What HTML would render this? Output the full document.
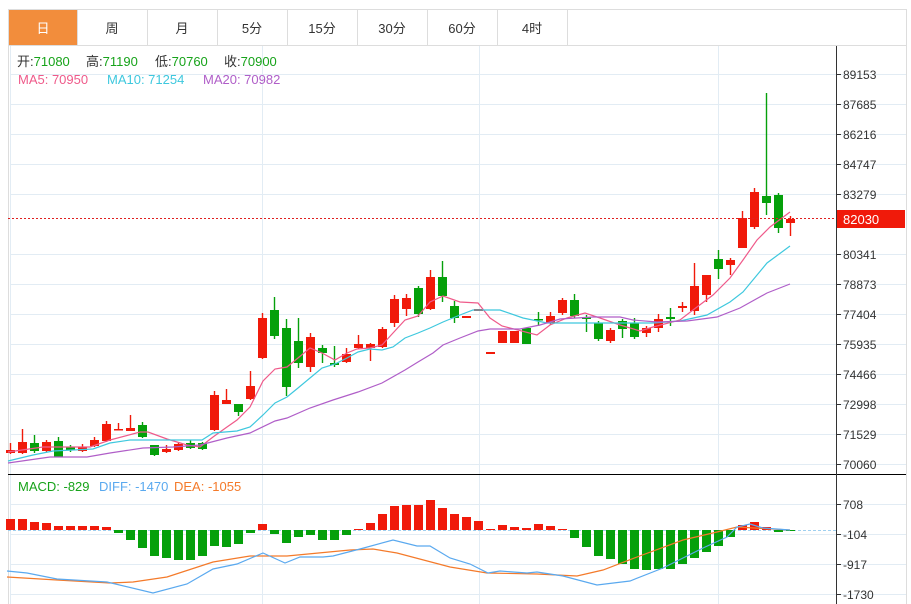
<!DOCTYPE html>
<html><head><meta charset="utf-8"><style>
html,body{margin:0;padding:0;background:#fff;width:911px;height:604px;overflow:hidden}
svg{display:block;font-family:"Liberation Sans","Noto Sans CJK SC",sans-serif}
</style></head><body>
<svg id="s" width="911" height="604" viewBox="0 0 911 604" xmlns="http://www.w3.org/2000/svg">
<rect x="8.5" y="9.5" width="898" height="600" fill="#fff" stroke="#ddd"/>
<g stroke="#ddd"><line x1="8" y1="45.5" x2="906" y2="45.5"/></g>
<rect x="9" y="10" width="68" height="35" fill="#f28d3c"/>
<g stroke="#ddd">
<line x1="77.5" y1="10" x2="77.5" y2="45"/><line x1="147.5" y1="10" x2="147.5" y2="45"/><line x1="217.5" y1="10" x2="217.5" y2="45"/><line x1="287.5" y1="10" x2="287.5" y2="45"/><line x1="357.5" y1="10" x2="357.5" y2="45"/><line x1="427.5" y1="10" x2="427.5" y2="45"/><line x1="497.5" y1="10" x2="497.5" y2="45"/><line x1="567.5" y1="10" x2="567.5" y2="45"/>
</g>
<g font-size="13" text-anchor="middle" fill="#333">
<text x="43" y="33" fill="#fff">日</text><text x="112" y="33">周</text><text x="182" y="33">月</text><text x="252" y="33">5分</text><text x="322" y="33">15分</text><text x="392" y="33">30分</text><text x="462" y="33">60分</text><text x="532" y="33">4时</text>
</g>
<g id="grid" stroke="#e2ecf4" stroke-width="1"></g>
<g id="main"></g>
<line x1="8" y1="474.5" x2="906" y2="474.5" stroke="#000"/>
<line x1="836.5" y1="46" x2="836.5" y2="604" stroke="#333"/>
<line x1="8" y1="218.5" x2="836" y2="218.5" stroke="#e02020" stroke-dasharray="2,2"/>
<rect x="837" y="210" width="68" height="18" fill="#f01a0a"/>
<text x="843" y="224" font-size="13" fill="#fff">82030</text>
<g font-size="13">
<text x="17" y="66" fill="#333">开:<tspan fill="#17a31a">71080</tspan></text>
<text x="86" y="66" fill="#333">高:<tspan fill="#17a31a">71190</tspan></text>
<text x="155" y="66" fill="#333">低:<tspan fill="#17a31a">70760</tspan></text>
<text x="224" y="66" fill="#333">收:<tspan fill="#17a31a">70900</tspan></text>
<text x="18" y="84" fill="#ef5a8a">MA5: 70950</text>
<text x="107" y="84" fill="#3ec8de">MA10: 71254</text>
<text x="203" y="84" fill="#b05ec8">MA20: 70982</text>
<text x="18" y="491" fill="#17a31a">MACD: -829</text>
<text x="99" y="491" fill="#5aa9ef">DIFF: -1470</text>
<text x="174" y="491" fill="#f47a2a">DEA: -1055</text>
</g>
</svg>
<script>
const S=document.getElementById('s'),G=document.getElementById('grid'),M=document.getElementById('main');
const ns='http://www.w3.org/2000/svg';
function el(p,t,a){const e=document.createElementNS(ns,t);for(const k in a)e.setAttribute(k,a[k]);p.appendChild(e);return e;}
const py=[74,104,134,164,194,224,254,284,314,344,374,404,434,464], pl=[89153,87685,86216,84747,83279,null,80341,78873,77404,75935,74466,72998,71529,70060];
py.forEach((y,i)=>{if(i!=5)el(G,'line',{x1:10,y1:y+.5,x2:906,y2:y+.5});});
[504,534,564,594].forEach(y=>el(G,'line',{x1:10,y1:y+.5,x2:906,y2:y+.5}));
[10,262,479,718].forEach(x=>el(G,'line',{x1:x+.5,y1:46,x2:x+.5,y2:604}));
py.forEach((y,i)=>{if(pl[i]){el(S,'line',{x1:836,y1:y+.5,x2:841,y2:y+.5,stroke:'#333'});const t=el(S,'text',{x:843,y:y+5,'font-size':12,fill:'#333'});t.textContent=pl[i];}});
[[504,'708'],[534,'-104'],[564,'-917'],[594,'-1730']].forEach(([y,l])=>{el(S,'line',{x1:836,y1:y+.5,x2:841,y2:y+.5,stroke:'#333'});const t=el(S,'text',{x:843,y:y+5,'font-size':12,fill:'#333'});t.textContent=l;});
const C=[['r',450,453,443,454],['r',442,453,429,454],['g',443,451,435,453],['r',442,451,440,452],['g',441,457,437,457],['g',447,450,445,452],['r',447,451,444,452],['r',440,446,437,447],['r',424,441,421,442],['r',429,430,423,430],['r',428,431,415,431],['g',425,437,422,438],
['g',445,455,445,456],['r',449,452,445,453],['r',444,450,442,451],['g',443,448,440,449],['g',443,449,442,450],['r',395,430,391,431],['r',400,404,389,404],['g',404,412,404,416],['r',386,399,371,400],['r',318,358,313,359],['g',310,336,297,339],['g',328,387,319,396],['g',341,363,318,368],['r',337,367,333,372],['g',348,353,345,363],['g',363,365,346,367],['r',354,362,348,363],['r',344,348,335,349],['r',344,348,343,361],['r',329,347,327,348],['r',299,323,295,327],['r',298,309,294,316],['g',288,314,286,317],['r',277,309,270,310],['g',277,296,261,302],['g',306,318,301,323],
['r',316,318,316,318],['r',309,311,309,311],['r',352,354,352,354],['r',331,343,331,343],['r',331,343,331,343],['g',328,344,328,344],['g',319,320,312,326],['r',316,323,312,325],['r',300,313,298,315],['g',300,316,294,318],['g',317,319,315,332],['g',323,339,321,341],['r',330,341,328,343],['g',321,329,319,338],['g',323,337,318,339],['r',328,333,326,337],['r',319,328,314,332],['g',317,319,308,326],['r',306,308,302,312],['r',286,311,263,315],['r',275,295,275,302],['g',259,269,250,279],['r',260,265,258,275],['r',218,248,211,248],['r',192,227,188,229],['g',196,203,93,215],['g',195,228,193,233],['r',219,223,216,236]];
const R='#f01a0a',Gc='#05a00b';
C.forEach((c,i)=>{const x=10+12*i,col=c[0]=='r'?R:Gc;
el(M,'line',{x1:x+.5,y1:c[3],x2:x+.5,y2:c[4],stroke:col,'stroke-width':1.4});
el(M,'rect',{x:x-4,y:c[1],width:9,height:Math.max(1.5,c[2]-c[1]),fill:col});});
function pl2(pts,col,w){el(M,'polyline',{points:pts.map(p=>p.join(',')).join(' '),fill:'none',stroke:col,'stroke-width':w||1.2});}
pl2([[8,452],[43,447],[90,447],[110,440],[140,432],[148,432],[167,439],[187,445],[200,447],[213,437],[227,427],[237,420],[250,407],[263,381],[275,369],[287,367],[298,358],[310,348],[322,353],[335,360],[347,353],[357,349],[370,348],[382,345],[393,333],[405,320],[418,316],[430,302],[443,296],[460,302],[478,303],[490,318],[502,326],[537,335],[550,325],[567,318],[585,313],[600,318],[620,325],[640,331],[653,327],[680,320],[693,310],[713,295],[730,278],[743,260],[757,240],[770,227],[790,212]],'#ef5a8a');
pl2([[8,461],[33,455],[53,451],[93,449],[110,443],[130,440],[173,440],[202,440],[213,433],[237,431],[250,427],[263,415],[275,403],[287,397],[298,388],[310,378],[322,368],[335,364],[347,358],[358,352],[370,349],[382,350],[393,347],[405,338],[418,333],[430,328],[443,322],[460,315],[473,310],[500,310],[523,318],[547,323],[593,323],[653,323],[680,321],[707,315],[730,302],[743,292],[767,263],[790,246]],'#3ec8de');
pl2([[8,463],[50,457],[87,457],[110,453],[143,448],[173,447],[200,445],[227,438],[250,433],[275,421],[287,418],[310,408],[333,400],[358,392],[382,383],[405,370],[418,362],[433,353],[443,345],[460,338],[478,331],[490,329],[520,329],[540,325],[560,319],[593,317],[620,317],[633,320],[657,322],[687,321],[717,317],[740,308],[767,293],[790,284]],'#b05ec8');
el(M,'line',{x1:8,y1:530.5,x2:836,y2:530.5,stroke:'#9fd0f0','stroke-dasharray':'3,2'});
const H=[519,519,522,523,526,526,526,526,527,533,540,548,556,558,560,560,556,546,547,544,533,524,534,543,537,535,540,540,535,529,523,514,506,505,505,500,508,514,517,521,529,525,527,528,524,526,529,538,547,556,559,564,569,570,569,569,564,558,552,546,537,525,522,527,532,531];
H.forEach((y,i)=>{const x=10+12*i,z=530;const col=y<z?R:Gc;el(M,'rect',{x:x-4,y:Math.min(y,z),width:9,height:Math.max(1,Math.abs(y-z)),fill:col});});
pl2([[7,577],[57,580],[110,583],[133,582],[167,577],[213,562],[250,556],[287,556],[350,550],[373,549],[397,553],[450,567],[487,573],[537,574],[577,576],[603,570],[637,557],[683,540],[717,532],[737,527],[790,530]],'#f47a2a');
pl2([[7,571],[27,573],[57,579],[107,582],[153,593],[187,584],[213,569],[237,564],[263,553],[285,563],[300,557],[323,557],[333,556],[360,549],[393,540],[417,546],[430,546],[450,558],[470,564],[488,573],[500,571],[527,573],[537,572],[563,576],[597,585],[630,581],[663,568],[703,548],[727,537],[737,527],[750,524],[763,528],[790,530]],'#5aa9ef');
</script>
</body></html>
